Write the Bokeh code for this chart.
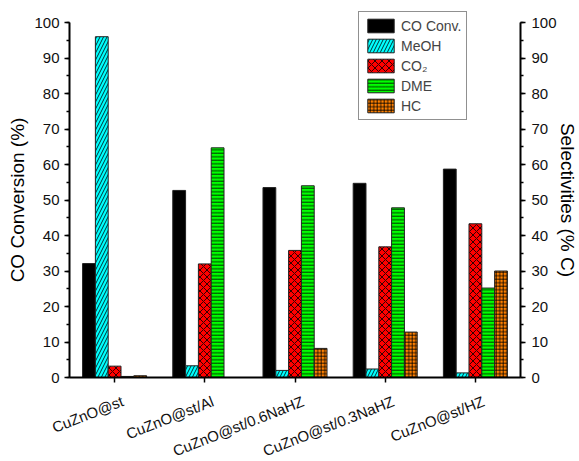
from bokeh.plotting import figure
from bokeh.models import ColumnDataSource, LinearAxis, FixedTicker, Range1d, Legend, LegendItem, Label
from bokeh.transform import dodge
from bokeh.embed import file_html
from bokeh.resources import INLINE

categories = ["CuZnO@st", "CuZnO@st/Al", "CuZnO@st/0.6NaHZ", "CuZnO@st/0.3NaHZ", "CuZnO@st/HZ"]
positions = [1, 2, 3, 4, 5]
co_conv = [32.1, 52.7, 53.5, 54.7, 58.7]
meoh = [96.0, 3.3, 2.0, 2.4, 1.3]
co2 = [3.2, 32.0, 35.8, 36.8, 43.3]
dme = [0.3, 64.7, 54.0, 47.8, 25.2]
hc = [0.5, 0.0, 8.2, 12.8, 30.0]
y_ticks = list(range(0, 101, 10))
y_minor = list(range(0, 101, 5))

source = ColumnDataSource(dict(x=positions, co=co_conv, meoh=meoh, co2=co2, dme=dme, hc=hc))

FONT = "Liberation Sans"
W, H = 579, 461
# frame covers the whole canvas; axes are pinned with fixed_location
p = figure(width=W, height=H, output_backend="svg", toolbar_location=None,
           x_range=Range1d(-0.2650, 6.1541), y_range=Range1d(-23.66, 106.20),
           min_border=0)
p.outline_line_color = None
p.grid.visible = False

w = 0.142
series = [
    ("co", "CO Conv.", "#000000", None, -2 * w),
    ("meoh", "MeOH", "#00FFFF", "/", -w),
    ("co2", "CO₂", "#FF0000", "x", 0.0),
    ("dme", "DME", "#00FF00", "-", w),
    ("hc", "HC", "#FF8000", "+", 2 * w),
]
items = []
for col, label, color, hatch, off in series:
    kw = {}
    if hatch:
        kw = dict(hatch_pattern=hatch, hatch_color="#000000", hatch_alpha=1.0,
                  hatch_weight=0.8, hatch_scale=7 if hatch in ("/", "x") else 3.5)
    r = p.vbar(x=dodge("x", off, range=p.x_range), top=col, width=w, source=source,
               fill_color=color, line_color="#222222", line_width=1, **kw)
    items.append(LegendItem(label=label, renderers=[r]))

legend = Legend(items=items, location=(358, 341), border_line_color="#222222",
                border_line_width=1, label_text_font=FONT, label_text_font_size="14px",
                glyph_width=33, glyph_height=17, label_height=17, spacing=3,
                padding=5, margin=0, label_standoff=4, background_fill_alpha=1)
p.add_layout(legend, "center")

yax = p.yaxis[0]
yax.fixed_location = 0.5
yax.bounds = (0, 100)
yax.ticker = FixedTicker(ticks=y_ticks, minor_ticks=y_minor)
yax.axis_label = "CO Conversion (%)"

rax = LinearAxis(fixed_location=5.5, bounds=(0, 100))
rax.ticker = FixedTicker(ticks=y_ticks, minor_ticks=y_minor)
rax.axis_label = "Selectivities (% C)"
p.add_layout(rax, "right")

xax = p.xaxis[0]
xax.fixed_location = 0
xax.bounds = (0.5, 5.5)
xax.ticker = FixedTicker(ticks=positions)
xax.major_label_text_color = None
xax.minor_tick_line_color = None

for ax in (yax, rax, xax):
    ax.axis_line_width = 2
    ax.axis_line_color = "#000000"
    ax.major_tick_line_width = 1.5
    ax.minor_tick_line_width = 1.5
    ax.major_tick_out = 5
    ax.major_tick_in = 0
    ax.minor_tick_out = 3
    ax.minor_tick_in = 0
    ax.major_label_standoff = 5
    ax.axis_label_standoff = 3
    ax.major_label_text_font = FONT
    ax.axis_label_text_font = FONT
    ax.axis_label_text_font_size = "19px"
    ax.axis_label_text_font_style = "normal"
    ax.axis_label_text_color = "#000000"
for ax in (yax, rax):
    ax.major_label_text_font_size = "15px"
    ax.major_label_text_color = "#111111"
rax.major_label_standoff = 6
rax.axis_label_standoff = -3

for pos, cat in zip(positions, categories):
    p.add_layout(Label(x=pos, y=0, text=cat, angle=0.375, text_align="right",
                       text_baseline="top", x_offset=5, y_offset=-15,
                       text_font=FONT, text_font_size="15px", text_color="#111111"))

open("out.html", "w").write(file_html(p, INLINE))
